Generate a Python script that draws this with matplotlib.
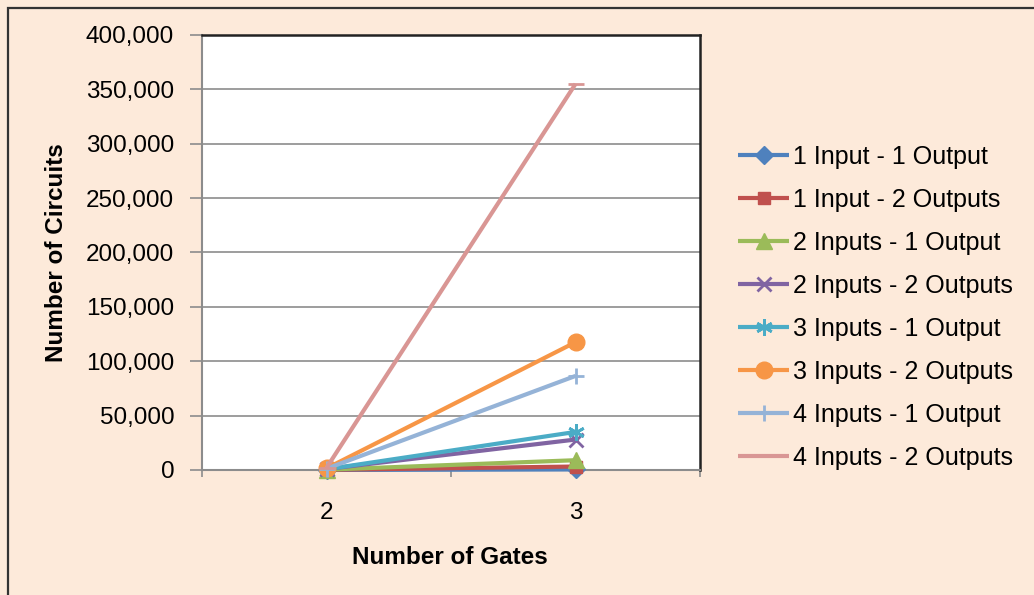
import matplotlib
matplotlib.use("Agg")
import matplotlib.pyplot as plt
from matplotlib.patches import Rectangle
from matplotlib.ticker import FuncFormatter

plt.rcParams['font.family'] = ['Liberation Sans', 'DejaVu Sans']

gates = ["2", "3"]
s_1in_1out = [40, 500]
s_1in_2out = [150, 3200]
s_2in_1out = [300, 9000]
s_2in_2out = [900, 28000]
s_3in_1out = [700, 35000]
s_3in_2out = [1500, 117500]
s_4in_1out = [1200, 86500]
s_4in_2out = [2000, 355000]

series = [
    ("1 Input - 1 Output", s_1in_1out, "#4F81BD", "D", 9),
    ("1 Input - 2 Outputs", s_1in_2out, "#C0504D", "s", 9),
    ("2 Inputs - 1 Output", s_2in_1out, "#9BBB59", "^", 11),
    ("2 Inputs - 2 Outputs", s_2in_2out, "#8064A2", "x", 10),
    ("3 Inputs - 1 Output", s_3in_1out, "#4BACC6", (6, 2, 0), 12),
    ("3 Inputs - 2 Outputs", s_3in_2out, "#F79646", "o", 12),
    ("4 Inputs - 1 Output", s_4in_1out, "#95B3D7", "+", 12),
    ("4 Inputs - 2 Outputs", s_4in_2out, "#D99694", "_", 12),
]

W, H = 1034, 595
fig = plt.figure(figsize=(W / 100, H / 100), dpi=100)
fig.patch.set_facecolor("#FDEADA")
fig.patches.append(Rectangle((8 / W, -0.05), 1.2, 1 - 8 / H + 0.05, transform=fig.transFigure,
                             fill=False, edgecolor="#333333", linewidth=1.6))

ax = fig.add_axes([202 / W, 1 - 470 / H, 498 / W, 435 / H])
ax.set_facecolor("white")

xpos = [0.5 + i for i in range(len(gates))]
for name, vals, col, mk, ms in series:
    ax.plot(xpos, vals, color=col, linewidth=3, marker=mk, markersize=ms,
            markeredgewidth=2 if mk in ("x", "+", "_", (6, 2, 0)) else 1,
            markerfacecolor=col, markeredgecolor=col, label=name, clip_on=False, zorder=3,
            solid_capstyle="butt")

ax.set_xlim(0, 2)
ax.set_ylim(0, 400000)
ax.set_yticks(range(0, 400001, 50000))
ax.yaxis.set_major_formatter(FuncFormatter(lambda v, p: f"{int(v):,}"))
ax.yaxis.grid(True, color="#8C8C8C", linewidth=1.2)
ax.set_axisbelow(True)

ax.set_xticks([0, 1, 2])
ax.set_xticklabels([])
ax.set_xticks(xpos, minor=True)
ax.set_xticklabels(gates, minor=True)
ax.tick_params(axis="x", which="major", length=5, width=1.2, color="#8C8C8C")
ax.tick_params(axis="x", which="minor", length=0, pad=23, labelsize=17.5)
ax.tick_params(axis="y", length=9, width=1.2, color="#8C8C8C", pad=11, labelsize=17.5)

for s in ("left", "bottom"):
    ax.spines[s].set_color("#8C8C8C")
    ax.spines[s].set_linewidth(1.5)
for s in ("top", "right"):
    ax.spines[s].set_color("#222222")
    ax.spines[s].set_linewidth(1.8)

fig.text(450 / W, 1 - 557 / H, "Number of Gates", ha="center", va="center",
         fontsize=17.5, fontweight="bold")
fig.text(57 / W, 1 - 253 / H, "Number of Circuits", ha="center", va="center",
         rotation=90, fontsize=17.5, fontweight="bold")

leg = fig.legend(loc="upper left", bbox_to_anchor=(738 / W, 1 - 145 / H), frameon=False,
                 fontsize=18, handlelength=2.05, handletextpad=0.15, labelspacing=0.76,
                 borderaxespad=0, borderpad=0)

fig.savefig("out.png", dpi=100, facecolor=fig.get_facecolor())
